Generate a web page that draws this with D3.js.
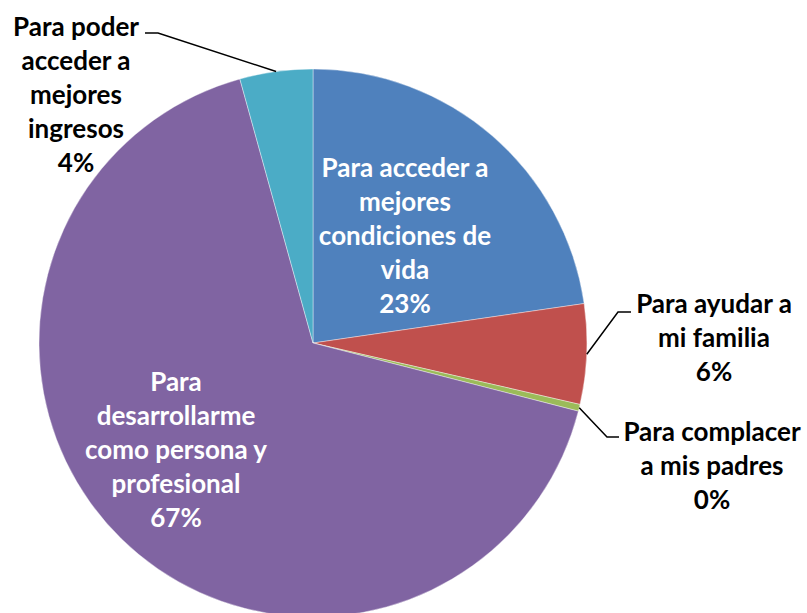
<!DOCTYPE html>
<html>
<head>
<meta charset="utf-8">
<script src="https://cdn.jsdelivr.net/npm/d3@7"></script>
<style>
  body { margin: 0; background: #fff; }
  text { font-family: Lato, "Open Sans", sans-serif; font-weight: bold; }
</style>
</head>
<body>
<div id="graph_box"></div>
<script>
// slice names (split in lines as in the original labels) and shares in %
const categories = [
    ["Para acceder a", "mejores", "condiciones de", "vida"],
    ["Para ayudar a", "mi familia"],
    ["Para complacer", "a mis padres"],
    ["Para", "desarrollarme", "como persona y", "profesional"],
    ["Para poder", "acceder a", "mejores", "ingresos"]
]
const values = [22.7, 5.9, 0.4, 66.7, 4.3]
const colors = ["#4F81BD", "#C0504D", "#9BBB59", "#8064A2", "#4BACC6"]

const width = 807, height = 613
const cx = 313, cy = 343, radius = 274

// where each label sits, and whether it needs a leader line
const labelPos = [
    { x: 405, y: 168, fill: "#fff" },
    { x: 714, y: 304, fill: "#000", elbow: [618, 312], end: [631, 312] },
    { x: 712, y: 432, fill: "#000", elbow: [607, 437], end: [619, 437] },
    { x: 176, y: 382, fill: "#fff" },
    { x: 76, y: 27, fill: "#000", elbow: [158, 33], end: [145, 33] }
]

const svg = d3.select("#graph_box")
    .append("svg")
    .attr("width", width)
    .attr("height", height)

const g = svg.append("g")
    .attr("transform", `translate(${cx},${cy})`)

const pie = d3.pie().sort(null).value(d => d)
const arcs = pie(values)

const arc = d3.arc().innerRadius(0).outerRadius(radius)

g.selectAll("path")
    .data(arcs)
    .enter()
    .append("path")
    .attr("d", arc)
    .attr("fill", (d, i) => colors[i])
    .attr("stroke", "#fff")
    .attr("stroke-width", 0.4)

const fmt = v => Math.round(v) + "%"
const lineH = 34

// leader lines from the rim to the outside labels
arcs.forEach(function (d, i) {
    const p = labelPos[i]
    if (!p.elbow) return
    const a = (d.startAngle + d.endAngle) / 2
    const x0 = cx + radius * Math.sin(a), y0 = cy - radius * Math.cos(a)
    svg.append("polyline")
        .attr("points", [[x0, y0], p.elbow, p.end].map(q => q.join(",")).join(" "))
        .attr("fill", "none")
        .attr("stroke", "#000")
        .attr("stroke-width", 1.5)
})

arcs.forEach(function (d, i) {
    const p = labelPos[i]
    const lines = categories[i].concat([fmt(values[i])])
    const t = svg.append("text")
        .attr("text-anchor", "middle")
        .attr("fill", p.fill)
        .style("font-size", "26px")
    lines.forEach(function (s, k) {
        t.append("tspan")
            .attr("x", p.x)
            .attr("y", p.y + k * lineH)
            .attr("dy", "0.35em")
            .text(s)
    })
})
</script>
</body>
</html>
